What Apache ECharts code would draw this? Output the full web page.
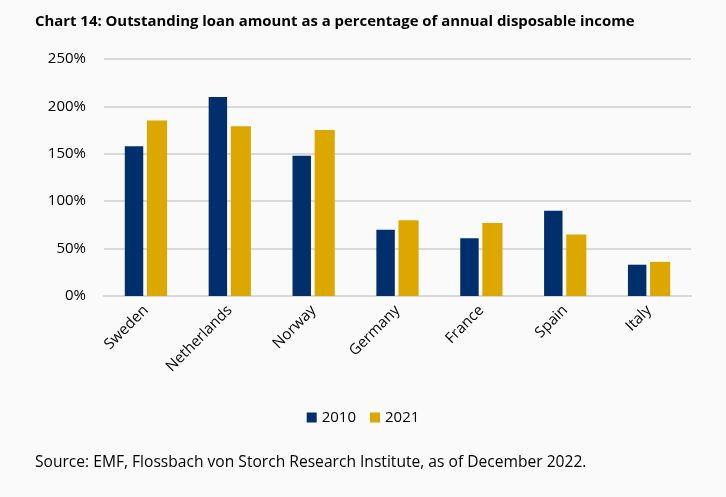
<!DOCTYPE html>
<html><head><meta charset="utf-8">
<script src="https://cdn.jsdelivr.net/npm/echarts@6/dist/echarts.min.js"></script>
<style>html,body{margin:0;padding:0;background:#fafafa;}#c{width:726px;height:497px;}</style>
</head><body><div id="c"></div>
<script>
const categories = ['Sweden','Netherlands','Norway','Germany','France','Spain','Italy'];
const v2010 = [158, 210, 148, 70, 61, 90, 33];
const v2021 = [185, 179, 175, 80, 77, 65, 36];
const yTicks = [0, 50, 100, 150, 200, 250];
const font = 'Open Sans';
const chart = echarts.init(document.getElementById('c'));
chart.setOption({
  backgroundColor: '#fafafa',
  animation: false,
  title: [{
    text: 'Chart 14: Outstanding loan amount as a percentage of annual disposable income',
    left: 35, top: 14, padding: 0,
    textStyle: {fontFamily: font, fontSize: 14.9, fontWeight: 'bold', color: '#000'}
  }, {
    text: 'Source: EMF, Flossbach von Storch Research Institute, as of December 2022.',
    left: 35, top: 455, padding: 0,
    textStyle: {fontFamily: font, fontSize: 15.6, fontWeight: 'normal', color: '#000'}
  }],
  legend: {
    data: ['2010','2021'], left: 'center', top: 405,
    itemWidth: 10, itemHeight: 10, icon: 'rect', itemGap: 14,
    textStyle: {fontFamily: font, fontSize: 15, color: '#000'}
  },
  grid: {left: 104, right: 35, top: 59, bottom: 201},
  xAxis: {
    type: 'category', data: categories,
    axisLine: {lineStyle: {color: '#d9d9d9', width: 2}},
    axisTick: {show: false},
    axisLabel: {rotate: 45, fontFamily: font, fontSize: 15, color: '#000', margin: 12, interval: 0}
  },
  yAxis: {
    type: 'value', min: yTicks[0], max: yTicks[yTicks.length-1], interval: 50,
    axisLine: {show: false}, axisTick: {show: false},
    axisLabel: {formatter: v => v + '%', fontFamily: font, fontSize: 15, color: '#000', margin: 18},
    splitLine: {lineStyle: {color: '#d9d9d9', width: 2}}
  },
  series: [
    {name: '2010', type: 'bar', data: v2010, barWidth: '22%', barGap: '20%', itemStyle: {color: '#002f6c'}},
    {name: '2021', type: 'bar', data: v2021, barWidth: '24%', itemStyle: {color: '#dca800'}}
  ]
});
</script></body></html>
